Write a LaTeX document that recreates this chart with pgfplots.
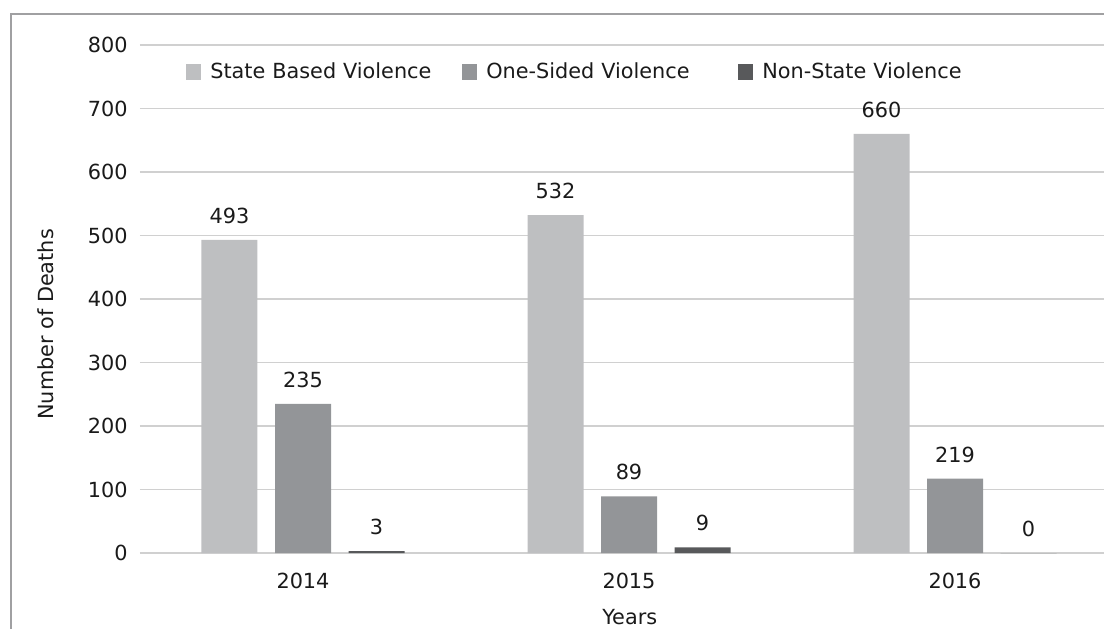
\documentclass[border=0pt]{standalone}
\usepackage{fontspec}
\setmainfont{DejaVu Sans}
\usepackage{pgfplots}
\pgfplotsset{compat=1.18}
\definecolor{cA}{HTML}{BEBFC1}
\definecolor{cB}{HTML}{939598}
\definecolor{cC}{HTML}{58595B}
\definecolor{gridc}{HTML}{D0D0D0}
\definecolor{framec}{HTML}{A0A0A2}
\definecolor{txt}{HTML}{1A1A1A}
\newcommand{\fs}{\fontsize{10.4}{12.5}\selectfont}
\begin{document}
\fs
\begin{tikzpicture}
\useasboundingbox (0,0) rectangle (552pt,314pt);
\begin{axis}[
  at={(151.5pt,37.5pt)}, anchor=origin,
  x=163pt, y=0.3175pt,
  xmin=-0.5, xmax=2.457, ymin=0, ymax=800,
  ybar, bar width=28pt,
  xtick={0,1,2}, xticklabels={2014,2015,2016},
  ytick={0,100,...,800},
  ymajorgrids, grid style={gridc, line width=0.8pt},
  axis line style={draw=none},
  major tick length=0pt,
  tick label style={font=\fs, text=txt},
  /pgf/number format/assume math mode=true,
  yticklabel style={inner sep=0pt, xshift=-6pt, anchor=east},
  xticklabel style={inner sep=0pt, yshift=-10pt, anchor=north},
  ylabel={Number of Deaths},
  ylabel style={at={(axis description cs:-0.0975,0.45)}, anchor=center, rotate=0, font=\fs, text=txt},
  xlabel={Years},
  xlabel style={at={(axis description cs:0.508,-0.126)}, anchor=center, font=\fs, text=txt},
  point meta=explicit symbolic,
  nodes near coords,
  nodes near coords style={anchor=south, inner sep=0pt, yshift=8pt, font=\fs, text=txt},
  legend style={at={(axis description cs:0.0477,0.947)}, anchor=west, draw=none, fill=none,
    inner sep=0pt, font=\fs, text=txt,
    nodes={inner sep=0pt, text width=126pt, align=left},
    /tikz/every odd column/.append style={column sep=4.5pt},
    /tikz/every even column/.append style={column sep=0pt}},
  legend columns=3,
  legend cell align=left,
  legend image code/.code={\fill[#1] (0pt,-4pt) rectangle (7.5pt,4pt);},
]
\addplot[fill=cA, draw=none, bar shift=-36.75pt] coordinates {(0,493) [493] (1,532) [532] (2,660) [660]};
\addplot[fill=cB, draw=none, bar shift=0pt] coordinates {(0,235) [235] (1,89) [89] (2,117) [219]};
\addplot[fill=cC, draw=none, bar shift=36.75pt] coordinates {(0,3) [3] (1,9) [9] (2,0) [0]};
\legend{State Based Violence, One-Sided Violence, Non-State Violence}
\end{axis}
\draw[framec, line width=1.2pt] (5.5pt,-2pt) -- (5.5pt,307pt) -- (554pt,307pt);
\end{tikzpicture}
\end{document}
